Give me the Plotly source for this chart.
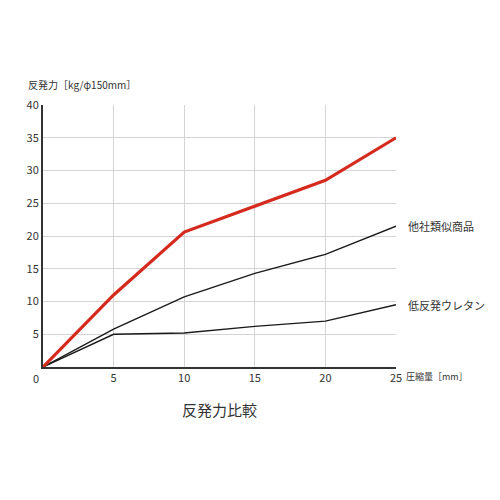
import plotly.graph_objects as go

# 圧縮量 [mm]
compression = [0, 5, 10, 15, 20, 25]

# 反発力 [kg/φ150mm]
ours = [0, 11.0, 20.6, 24.5, 28.5, 35.0]
similar = [0, 5.8, 10.7, 14.3, 17.2, 21.5]
low_rebound = [0, 5.0, 5.2, 6.2, 7.0, 9.5]

x_ticks = [0, 5, 10, 15, 20, 25]
y_ticks = [5, 10, 15, 20, 25, 30, 35, 40]

FONT = "Noto Sans CJK JP"
TXT = "#333333"

fig = go.Figure()
fig.add_trace(go.Scatter(x=compression, y=low_rebound, mode="lines",
                         line=dict(color="#1a1a1a", width=1.4), showlegend=False))
fig.add_trace(go.Scatter(x=compression, y=similar, mode="lines",
                         line=dict(color="#1a1a1a", width=1.4), showlegend=False))
fig.add_trace(go.Scatter(x=compression, y=ours, mode="lines",
                         line=dict(color="#d52a1e", width=3.2), showlegend=False))

# line labels at the right end
fig.add_annotation(x=25, y=similar[-1], xref="x", yref="y", text="他社類似商品",
                   showarrow=False, xanchor="left", xshift=10,
                   font=dict(size=11, color=TXT, family=FONT))
fig.add_annotation(x=25, y=low_rebound[-1], xref="x", yref="y", text="低反発ウレタン",
                   showarrow=False, xanchor="left", xshift=10,
                   font=dict(size=11, color=TXT, family=FONT))

# axis titles
fig.add_annotation(x=25, y=0, xref="x", yref="y", text="圧縮量［mm］",
                   showarrow=False, xanchor="left", yanchor="top", xshift=8, yshift=-1,
                   font=dict(size=9, color=TXT, family=FONT))
fig.add_annotation(x=0, y=40, xref="x", yref="y", text="反発力［kg/φ150mm］",
                   showarrow=False, xanchor="left", yanchor="bottom", xshift=-17, yshift=11,
                   font=dict(size=10, color=TXT, family=FONT))

# shared origin label
fig.add_annotation(x=0, y=0, xref="x", yref="y", text="0",
                   showarrow=False, xanchor="center", yanchor="top", xshift=-7, yshift=-1,
                   font=dict(size=11, color=TXT, family=FONT))

# chart title under the plot
fig.add_annotation(x=0.5, y=-0.113, xref="paper", yref="paper", text="反発力比較",
                   showarrow=False, xanchor="center", yanchor="top",
                   font=dict(size=15, color=TXT, family=FONT))

fig.update_xaxes(range=[0, 25], tickvals=x_ticks[1:], showgrid=True,
                 gridcolor="#d4d4d4", gridwidth=1.2, zeroline=False,
                 showline=True, linecolor="#333333", linewidth=2,
                 tickfont=dict(size=11, color=TXT, family=FONT), ticks="")
fig.update_yaxes(range=[0, 40], tickvals=y_ticks, showgrid=True,
                 gridcolor="#d4d4d4", gridwidth=1.2, zeroline=False,
                 showline=True, linecolor="#333333", linewidth=2,
                 tickfont=dict(size=11, color=TXT, family=FONT), ticks="")
fig.update_layout(
    width=500, height=500,
    margin=dict(l=35, r=112, t=97, b=141, autoexpand=False),
    plot_bgcolor="white", paper_bgcolor="white",
    font=dict(family=FONT, color=TXT),
)
fig.write_html("out.html")
